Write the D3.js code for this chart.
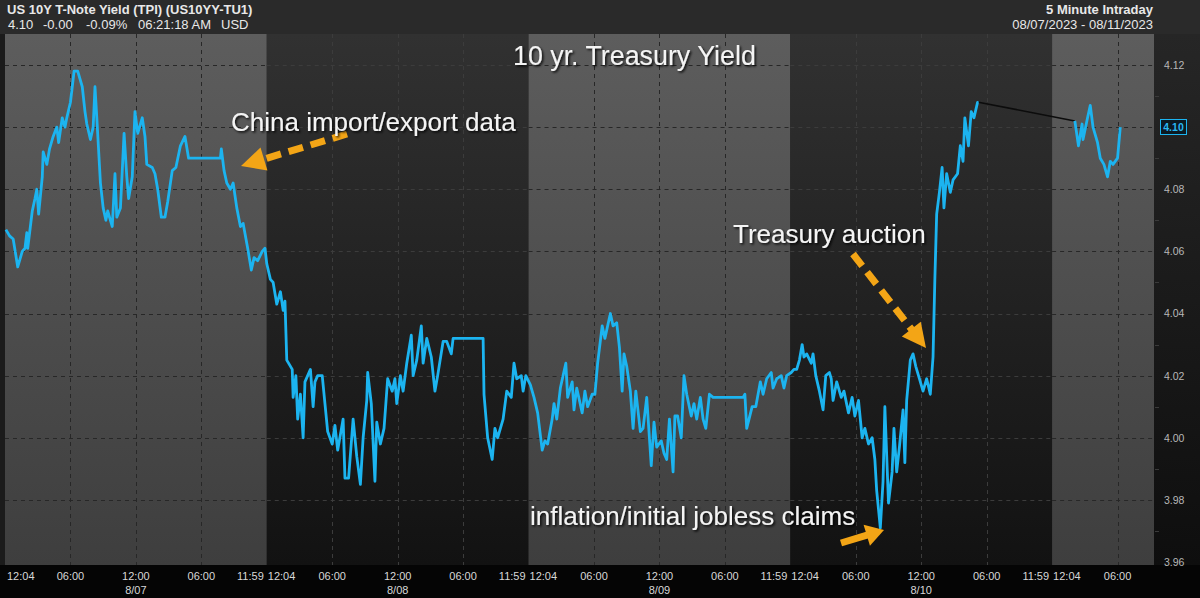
<!DOCTYPE html>
<html>
<head>
<meta charset="utf-8">
<script src="https://cdn.jsdelivr.net/npm/d3@7"></script>
<style>
  body { margin: 0; background: #000; }
  svg { display: block; font-family: "Liberation Sans", Arial, sans-serif; }
</style>
</head>
<body>
<svg id="chart" width="1200" height="598"></svg>
<script>
// 5 minute intraday yield ("HH:MM", yield). One array per trading day.
const aug07 = [["00:05",4.067],["00:25",4.065],["00:45",4.064],["01:10",4.055],["01:35",4.060],["01:50",4.061],["02:00",4.066],["02:05",4.061],["02:30",4.073],["02:45",4.077],["02:55",4.080],["03:05",4.072],["03:25",4.084],["03:30",4.092],["03:50",4.088],["04:05",4.093],["04:25",4.097],["04:45",4.100],["04:55",4.095],["05:15",4.103],["05:30",4.100],["05:40",4.103],["06:00",4.108],["06:10",4.113],["06:20",4.118],["06:40",4.118],["07:05",4.113],["07:20",4.105],["07:30",4.101],["07:50",4.096],["08:05",4.100],["08:15",4.113],["08:25",4.103],["08:45",4.082],["09:00",4.074],["09:15",4.070],["09:25",4.073],["09:50",4.068],["10:05",4.085],["10:15",4.071],["10:35",4.074],["10:55",4.098],["11:10",4.084],["11:20",4.077],["11:40",4.084],["11:55",4.105],["12:10",4.098],["12:35",4.103],["12:50",4.097],["13:00",4.088],["13:30",4.087],["13:45",4.085],["14:00",4.080],["14:20",4.071],["14:40",4.071],["14:55",4.076],["15:20",4.086],["15:40",4.087],["16:05",4.094],["16:30",4.097],["16:50",4.090],["19:45",4.090],["19:50",4.093],["20:05",4.086],["20:20",4.082],["20:40",4.080],["20:55",4.082],["21:15",4.074],["21:35",4.068],["21:50",4.069],["22:15",4.061],["22:35",4.054],["22:50",4.058],["23:10",4.057],["23:35",4.060],["23:50",4.061]];
const aug08 = [["00:00",4.056],["00:20",4.051],["00:35",4.050],["00:55",4.043],["01:15",4.047],["01:30",4.041],["01:40",4.044],["01:50",4.025],["02:20",4.022],["02:25",4.013],["02:40",4.020],["02:50",4.006],["03:05",4.014],["03:20",4.000],["03:30",4.018],["03:45",4.020],["04:00",4.022],["04:15",4.010],["04:25",4.018],["04:40",4.020],["05:05",4.020],["05:20",4.011],["05:35",4.002],["06:00",3.998],["06:15",4.004],["06:30",3.996],["07:00",4.006],["07:10",3.987],["07:30",3.987],["07:55",4.006],["08:15",3.994],["08:35",3.985],["08:50",4.000],["09:10",4.012],["09:15",4.021],["09:35",4.011],["09:55",3.986],["10:05",4.005],["10:25",3.998],["10:45",4.003],["11:05",4.019],["11:30",4.015],["11:45",4.019],["11:55",4.011],["12:15",4.020],["12:30",4.015],["12:50",4.024],["13:15",4.033],["13:25",4.020],["13:45",4.025],["14:10",4.036],["14:20",4.024],["14:40",4.032],["15:05",4.026],["15:25",4.015],["15:40",4.020],["16:10",4.031],["16:30",4.031],["16:55",4.027],["17:05",4.032],["19:50",4.032],["19:55",4.014],["20:15",4.000],["20:40",3.993],["20:55",4.003],["21:10",4.000],["21:40",4.006],["22:00",4.015],["22:25",4.013],["22:40",4.024],["22:55",4.019],["23:20",4.020],["23:30",4.015],["23:45",4.020]];
const aug09 = [["00:10",4.017],["00:30",4.013],["00:50",4.008],["01:15",3.996],["01:30",3.999],["01:45",3.998],["02:10",4.006],["02:20",4.011],["02:35",4.006],["02:55",4.016],["03:10",4.020],["03:25",4.024],["03:35",4.013],["04:00",4.018],["04:10",4.009],["04:25",4.016],["04:55",4.008],["05:10",4.015],["05:25",4.010],["05:50",4.014],["06:05",4.014],["06:20",4.024],["06:45",4.036],["07:00",4.032],["07:30",4.040],["07:45",4.036],["08:05",4.037],["08:20",4.029],["08:35",4.015],["08:45",4.027],["09:00",4.023],["09:20",4.015],["09:35",4.003],["09:50",4.015],["10:15",4.002],["10:30",4.003],["10:50",4.013],["11:15",3.991],["11:30",4.005],["11:45",3.997],["12:10",3.999],["12:25",3.995],["12:40",3.993],["12:55",4.006],["13:15",3.989],["13:25",4.007],["13:40",4.007],["14:00",4.000],["14:15",4.020],["14:30",4.014],["14:55",4.007],["15:10",4.011],["15:25",4.006],["15:45",4.013],["16:00",4.006],["16:15",4.003],["16:35",4.014],["16:55",4.013],["19:40",4.013],["19:50",4.014],["20:00",4.003],["20:30",4.010],["20:50",4.010],["21:15",4.018],["21:30",4.014],["21:50",4.019],["22:15",4.021],["22:25",4.016],["22:45",4.019],["23:10",4.020],["23:25",4.016],["23:40",4.020]];
const aug10 = [["00:05",4.021],["00:20",4.022],["00:35",4.022],["00:50",4.025],["01:05",4.030],["01:15",4.026],["01:30",4.027],["01:55",4.024],["02:05",4.027],["02:20",4.020],["02:40",4.015],["03:00",4.009],["03:15",4.020],["03:35",4.021],["03:45",4.019],["03:55",4.012],["04:15",4.018],["04:40",4.013],["04:55",4.015],["05:20",4.008],["05:40",4.013],["05:55",4.007],["06:15",4.012],["06:35",4.000],["06:50",4.003],["07:10",3.998],["07:30",4.000],["07:45",3.993],["07:55",3.983],["08:15",3.971],["08:30",3.986],["08:40",4.010],["09:00",3.979],["09:20",3.989],["09:30",4.003],["09:45",3.989],["10:00",3.997],["10:20",4.009],["10:30",3.992],["10:40",4.012],["11:00",4.025],["11:15",4.027],["11:30",4.023],["11:50",4.019],["12:10",4.015],["12:30",4.019],["12:50",4.014],["13:05",4.026],["13:15",4.051],["13:25",4.072],["13:40",4.079],["13:55",4.087],["14:05",4.074],["14:20",4.085],["14:40",4.079],["14:55",4.083],["15:20",4.085],["15:35",4.094],["15:50",4.089],["16:00",4.103],["16:20",4.094],["16:35",4.105],["16:50",4.103],["17:10",4.108],["17:15",4.108]];
const aug11 = [["02:05",4.102],["02:25",4.094],["02:45",4.101],["02:50",4.096],["03:15",4.103],["03:30",4.107],["03:45",4.100],["04:10",4.095],["04:25",4.090],["04:45",4.088],["05:05",4.084],["05:20",4.089],["05:35",4.088],["06:00",4.090],["06:15",4.100]];

const days = ["2023-08-07","2023-08-08","2023-08-09","2023-08-10","2023-08-11"];
const dayData = [aug07, aug08, aug09, aug10, aug11];
const yTicks = [3.96, 3.98, 4.00, 4.02, 4.04, 4.06, 4.08, 4.10, 4.12];
const lastYield = 4.10;

const parse = d3.timeParse("%Y-%m-%d %H:%M");

// before the overnight gap (8/07 - 8/10) and after it (8/11)
let before = [], after = [];
dayData.forEach((arr, i) => {
	let pts = arr.map(([hm, v]) => ({t: parse(days[i] + " " + hm), v: v}));
	if (i < 4) before = before.concat(pts); else after = after.concat(pts);
});

const W = 1200, H = 598;
const plot = {left: 5, right: 1154, top: 34, bottom: 565};

const x = d3.scaleTime()
	.domain([parse("2023-08-07 00:00"), parse("2023-08-11 09:15")])
	.range([plot.left, plot.right - 1]);
const y = d3.scaleLinear().domain([3.96, 4.12]).range([562, 65]);

const svg = d3.select("#chart");
const defs = svg.append("defs");

function grad(id, c1, c2){
	let g = defs.append("linearGradient").attr("id", id)
		.attr("x1", 0).attr("y1", 0).attr("x2", 0).attr("y2", 1);
	g.append("stop").attr("offset", "0%").attr("stop-color", c1);
	g.append("stop").attr("offset", "100%").attr("stop-color", c2);
}
grad("light", "#5d5d5d", "#3e3e3e");
grad("dark", "#313131", "#121212");
grad("axisbg", "#262626", "#0e0e0e");

defs.append("filter").attr("id", "shadow")
	.attr("x", "-10%").attr("y", "-30%").attr("width", "120%").attr("height", "160%")
	.append("feDropShadow")
	.attr("dx", 1.5).attr("dy", 1.5).attr("stdDeviation", 1.2)
	.attr("flood-color", "#000").attr("flood-opacity", 0.9);

// frame
svg.append("rect").attr("width", W).attr("height", H).attr("fill", "#1b1b1b");
svg.append("rect").attr("width", W).attr("height", plot.top).attr("fill", "#2a2a2a");
svg.append("rect").attr("x", plot.right).attr("y", plot.top)
	.attr("width", W - plot.right).attr("height", plot.bottom - plot.top).attr("fill", "url(#axisbg)");
svg.append("rect").attr("x", 0).attr("y", plot.bottom)
	.attr("width", W).attr("height", H - plot.bottom).attr("fill", "#050505");

// day bands, light and dark in turn
const bands = days.map((d, i) => {
	let x0 = x(parse(d + " 00:00"));
	let x1 = i < days.length - 1 ? x(parse(days[i+1] + " 00:00")) : plot.right;
	return {day: d, x0: x0, x1: Math.min(x1, plot.right), light: i % 2 === 0, i: i};
});

const bandG = svg.append("g");
bands.forEach(b => {
	bandG.append("rect")
		.attr("x", b.x0).attr("y", plot.top)
		.attr("width", b.x1 - b.x0).attr("height", plot.bottom - plot.top)
		.attr("fill", b.light ? "url(#light)" : "url(#dark)");

	let gc = b.light ? "#272727" : "#3c3c3c";
	// horizontal grid within band
	bandG.selectAll(null).data(yTicks.filter(v => v > 3.96)).join("line")
		.attr("x1", b.x0).attr("x2", b.x1)
		.attr("y1", d => Math.round(y(d)) + 0.5).attr("y2", d => Math.round(y(d)) + 0.5)
		.attr("stroke", gc).attr("stroke-dasharray", "4,4");
	// vertical grid at 06:00, 12:00, 18:00
	let hrs = [6, 12, 18].map(h => d3.timeHour.offset(parse(b.day + " 00:00"), h))
		.filter(t => x(t) < b.x1);
	bandG.selectAll(null).data(hrs).join("line")
		.attr("x1", d => Math.round(x(d)) + 0.5).attr("x2", d => Math.round(x(d)) + 0.5)
		.attr("y1", plot.top).attr("y2", plot.bottom)
		.attr("stroke", gc).attr("stroke-dasharray", "4,4");
});

// x axis labels
const xl = svg.append("g").attr("fill", "#d8d8d8").attr("font-size", 11);
bands.forEach(b => {
	let start = parse(b.day + " 00:00");
	xl.append("text").attr("x", b.x0 + (b.i === 0 ? 2 : 1)).attr("y", 580).text("12:04");
	[[6, "06:00"], [12, "12:00"], [18, "06:00"]].forEach(([h, lab]) => {
		let t = d3.timeHour.offset(start, h);
		if (x(t) > b.x1 - 15) return;
		xl.append("text").attr("x", x(t)).attr("y", 580).attr("text-anchor", "middle").text(lab);
		if (h === 12) xl.append("text").attr("x", x(t)).attr("y", 594)
			.attr("text-anchor", "middle").text(d3.timeFormat("%-m/%d")(t));
	});
	if (b.i < days.length - 1)
		xl.append("text").attr("x", b.x1 - 3).attr("y", 580).attr("text-anchor", "end").text("11:59");
});

// y axis
const yAxis = svg.append("g")
	.attr("transform", `translate(${plot.right},0)`)
	.call(d3.axisRight(y).tickValues(yTicks).tickFormat(d3.format(".2f")).tickSize(0).tickPadding(10));
yAxis.select(".domain").remove();
yAxis.selectAll("text").attr("fill", "#b8b8b8").attr("font-size", 10.5)
	.attr("font-family", "Liberation Sans, Arial, sans-serif");
yAxis.selectAll(".tick").filter(d => d === lastYield).select("text").attr("opacity", 0);
svg.append("g").selectAll("line").data(d3.range(3.97, 4.12, 0.02)).join("line")
	.attr("x1", plot.right + 1).attr("x2", plot.right + 5)
	.attr("y1", d => Math.round(y(d)) + 0.5).attr("y2", d => Math.round(y(d)) + 0.5)
	.attr("stroke", "#3a3a3a");

// series
const line = d3.line().x(d => x(d.t)).y(d => y(d.v));
svg.append("line")
	.attr("x1", x(before[before.length-1].t)).attr("y1", y(before[before.length-1].v))
	.attr("x2", x(after[0].t)).attr("y2", y(after[0].v))
	.attr("stroke", "#0c0c0c").attr("stroke-width", 1.6);
[before, after].forEach(seg => {
	svg.append("path").datum(seg).attr("d", line)
		.attr("fill", "none").attr("stroke", "#1cb4f0")
		.attr("stroke-width", 2.8).attr("stroke-linejoin", "round");
});

// current value tag
const ty = y(after[after.length-1].v);
svg.append("rect").attr("x", 1160.5).attr("y", Math.round(ty) - 7.5)
	.attr("width", 26).attr("height", 15)
	.attr("fill", "#0c1a22").attr("stroke", "#1cb4f0").attr("stroke-width", 1);
svg.append("text").attr("x", 1173.5).attr("y", Math.round(ty) + 4)
	.attr("text-anchor", "middle").attr("font-size", 10.5).attr("font-weight", "bold")
	.attr("fill", "#2ab8f2").text(d3.format(".2f")(lastYield));

// header
const hd = svg.append("g").attr("fill", "#e8e8e8").attr("font-size", 13);
hd.append("text").attr("x", 7).attr("y", 14).attr("font-weight", "bold")
	.text("US 10Y T-Note Yield (TPI) (US10YY-TU1)");
[[8, "4.10"], [43, "-0.00"], [86, "-0.09%"], [138, "06:21:18 AM"], [221, "USD"]].forEach(([px, s]) =>
	hd.append("text").attr("x", px).attr("y", 29).text(s));
hd.append("text").attr("x", 1153).attr("y", 14).attr("text-anchor", "end")
	.attr("font-weight", "bold").text("5 Minute Intraday");
hd.append("text").attr("x", 1153).attr("y", 29).attr("text-anchor", "end")
	.text("08/07/2023 - 08/11/2023");

// annotations
const orange = "#f3a516";
function arrow(x1, y1, x2, y2, o){
	let a = Math.atan2(y2 - y1, x2 - x1);
	let bx = x2 - o.head * Math.cos(a), by = y2 - o.head * Math.sin(a);
	svg.append("line").attr("x1", x1).attr("y1", y1).attr("x2", bx + 2*Math.cos(a)).attr("y2", by + 2*Math.sin(a))
		.attr("stroke", orange).attr("stroke-width", o.w)
		.attr("stroke-dasharray", o.dash || null);
	let nx = -Math.sin(a) * o.hw / 2, ny = Math.cos(a) * o.hw / 2;
	svg.append("path")
		.attr("d", `M${x2},${y2}L${bx + nx},${by + ny}L${bx - nx},${by - ny}Z`)
		.attr("fill", orange);
}
arrow(347, 134, 241, 166, {w: 7, head: 24, hw: 24, dash: "15,8"});
arrow(853, 254, 926, 348, {w: 7, head: 24, hw: 24, dash: "15,8"});
arrow(841, 543, 884, 530, {w: 7, head: 18, hw: 22});

const notes = [
	["10 yr. Treasury Yield", 513, 65, 26.8],
	["China import/export data", 231, 131, 26],
	["Treasury auction", 733, 243, 26],
	["inflation/initial jobless claims", 530, 525, 26]
];
svg.append("g").selectAll("text").data(notes).join("text")
	.attr("x", d => d[1]).attr("y", d => d[2])
	.attr("font-size", d => d[3]).attr("fill", "#f4f4f4").attr("filter", "url(#shadow)")
	.text(d => d[0]);
</script>
</body>
</html>
